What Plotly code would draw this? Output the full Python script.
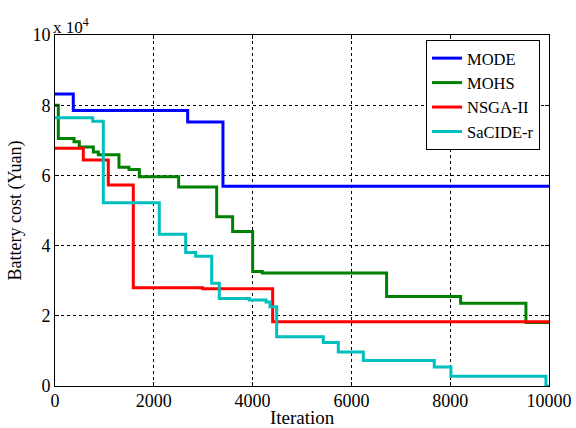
import plotly.graph_objects as go

# Data (battery cost in units of 1e4 Yuan)
mode_x = [0, 370, 2686, 3400, 10000]
mode_y = [8.32, 7.85, 7.52, 5.69, 5.69]

mohs_x = [0, 67, 385, 492, 776, 877, 1295, 1498, 1707, 2503, 3273, 3596, 4001, 4196, 6713, 8211, 9533, 10000]
mohs_y = [8.0, 7.05, 6.96, 6.81, 6.67, 6.59, 6.23, 6.17, 5.96, 5.67, 4.82, 4.40, 3.26, 3.22, 2.55, 2.36, 1.81, 1.81]

nsga_x = [0, 573, 1079, 1585, 2989, 4406, 10000]
nsga_y = [6.77, 6.44, 5.73, 2.80, 2.77, 1.83, 1.83]

sacide_x = [0, 763, 978, 2111, 2645, 2848, 3172, 3326, 3933, 4271, 4352, 4487, 5431, 5735, 6241, 7677, 8015, 9938, 10000]
sacide_y = [7.64, 7.54, 5.22, 4.32, 3.80, 3.70, 2.93, 2.49, 2.45, 2.39, 2.26, 1.40, 1.24, 0.97, 0.73, 0.54, 0.28, 0.0, 0.0]

series = [
    ("MODE", mode_x, mode_y, "#0000FF"),
    ("MOHS", mohs_x, mohs_y, "#008000"),
    ("NSGA-II", nsga_x, nsga_y, "#FF0000"),
    ("SaCIDE-r", sacide_x, sacide_y, "#00BFBF"),
]

x_ticks = [0, 2000, 4000, 6000, 8000, 10000]
x_tick_labels = ["0", "2000", "4000", "6000", "8000", "10000"]
y_ticks = [0, 2, 4, 6, 8, 10]
y_tick_labels = ["0", "2", "4", "6", "8", "10"]

fig = go.Figure()
for name, xs, ys, c in series:
    fig.add_trace(go.Scatter(x=xs, y=ys, name=name, mode="lines",
                             line=dict(color=c, width=3, shape="hv")))

FONT = "Liberation Serif"
axis_common = dict(
    showline=True, linecolor="black", linewidth=1, mirror="ticks",
    ticks="inside", ticklen=4, tickcolor="black", automargin=False,
    showgrid=True, gridcolor="black", griddash="dot", gridwidth=1,
    zeroline=False, tickfont=dict(family=FONT, size=18, color="black"),
)

fig.update_layout(
    width=576, height=428,
    margin=dict(l=55, r=27, t=35, b=42),
    paper_bgcolor="white", plot_bgcolor="white",
    font=dict(family=FONT, color="black", size=18),
    xaxis=dict(range=[0, 10000], tickvals=x_ticks, ticktext=x_tick_labels,
               ticklabelstandoff=-2, **axis_common),
    yaxis=dict(range=[0, 10], tickvals=y_ticks, ticktext=y_tick_labels, **axis_common,
               title=dict(text="Battery cost (Yuan)", font=dict(family=FONT, size=18, color="black"), standoff=6)),
    legend=dict(x=0.751, y=0.986, xanchor="left", yanchor="top",
                bordercolor="black", borderwidth=1, bgcolor="white",
                font=dict(family=FONT, size=16.5, color="black"),
                tracegroupgap=0),
    showlegend=True,
)
fig.add_annotation(text="Iteration", xref="paper", yref="paper", x=0.5, y=-0.1168,
                   xanchor="center", yanchor="bottom", showarrow=False, yshift=-2,
                   font=dict(family=FONT, size=19, color="black"), borderpad=0)
fig.add_annotation(text="x 10<sup>4</sup>", xref="paper", yref="paper", x=0, y=1,
                   xanchor="left", yanchor="bottom", showarrow=False,
                   font=dict(family=FONT, size=17, color="black"), yshift=-4, xshift=-4)

fig.write_html("out.html", config={"displayModeBar": False},
               post_script="document.body.style.margin='0';")
